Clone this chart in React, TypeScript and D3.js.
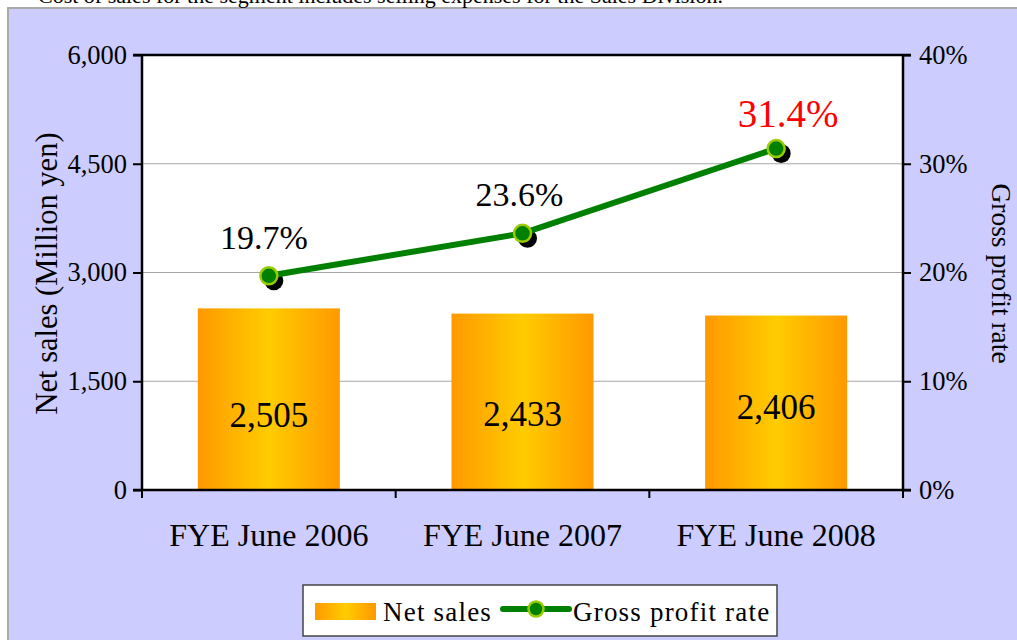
import React, { useEffect, useRef } from 'react';
import * as d3 from 'd3';

const categories = ['FYE June 2006', 'FYE June 2007', 'FYE June 2008'];
const netSales = [2505, 2433, 2406];
const grossProfitRate = [19.7, 23.6, 31.4];
const salesTicks = [0, 1500, 3000, 4500, 6000];
const rateTicks = [0, 10, 20, 30, 40];
const noteText = 'Cost of sales for the segment includes selling expenses for the Sales Division.';

const FONT = '"Liberation Serif", "Times New Roman", serif';

// label nudges (px) to sit like the original layout
const rateLabelDx = [-5, -3, 12];
const barLabelDy = [28, 24, 16];

const App = () => {
    const svgRef = useRef<SVGSVGElement>(null);

    useEffect(() => {
        const svg = d3.select(svgRef.current);
        svg.selectAll('*').remove();

        const margin = { top: 55, left: 142, right: 114, bottom: 150 };
        const W = 1017, H = 640;
        const width = W - margin.left - margin.right;
        const height = H - margin.top - margin.bottom;

        // Panel background
        svg.append('rect').attr('x', 8).attr('y', 8).attr('width', W).attr('height', H)
            .attr('fill', '#CCCCFF').attr('stroke', '#aaaaaa').attr('stroke-width', 2);

        svg.append('text').attr('x', 38).attr('y', 3)
            .attr('font-family', FONT).attr('font-size', 22).attr('fill', '#000')
            .text(noteText);

        const defs = svg.append('defs');
        const grad = defs.append('linearGradient').attr('id', 'barGrad')
            .attr('x1', '0%').attr('x2', '100%').attr('y1', '0%').attr('y2', '0%');
        grad.append('stop').attr('offset', '0%').attr('stop-color', '#FF9900');
        grad.append('stop').attr('offset', '50%').attr('stop-color', '#FFCC00');
        grad.append('stop').attr('offset', '100%').attr('stop-color', '#FF9900');

        const g = svg.append('g').attr('transform', `translate(${margin.left},${margin.top})`);

        const x = d3.scaleBand().domain(categories).range([0, width]).paddingInner(0.44).paddingOuter(0.22);
        const xBoundary = d3.scaleLinear().domain([0, categories.length]).range([0, width]);
        const y = d3.scaleLinear().domain([0, 6000]).range([height, 0]);
        const y2 = d3.scaleLinear().domain([0, 40]).range([height, 0]);

        g.append('rect').attr('width', width).attr('height', height).attr('fill', '#ffffff');

        // Grid lines
        g.selectAll('.grid').data(salesTicks.slice(1, -1)).enter().append('line')
            .attr('x1', 0).attr('x2', width)
            .attr('y1', d => y(d)).attr('y2', d => y(d))
            .attr('stroke', '#a6a6a6').attr('stroke-width', 1.2);

        // Bars
        g.selectAll('.bar').data(netSales).enter().append('rect')
            .attr('x', (d, i) => x(categories[i])!)
            .attr('y', d => y(d))
            .attr('width', x.bandwidth())
            .attr('height', d => height - y(d))
            .attr('fill', 'url(#barGrad)');

        g.selectAll('.barLabel').data(netSales).enter().append('text')
            .attr('x', (d, i) => x(categories[i])! + x.bandwidth() / 2)
            .attr('y', (d, i) => (y(d) + height) / 2 + barLabelDy[i])
            .attr('text-anchor', 'middle')
            .attr('font-family', FONT).attr('font-size', 35)
            .text(d => d3.format(',')(d));

        // Top / bottom frame lines
        g.append('line').attr('x1', -9).attr('x2', width + 8).attr('y1', 0).attr('y2', 0)
            .attr('stroke', '#000').attr('stroke-width', 2.5);
        g.append('line').attr('x1', -9).attr('x2', width + 8).attr('y1', height).attr('y2', height)
            .attr('stroke', '#000').attr('stroke-width', 2.5);

        // Left axis
        const leftAxis = g.append('g').call(d3.axisLeft(y).tickValues(salesTicks).tickSize(9).tickPadding(6)
            .tickFormat(d => d3.format(',')(d as number)));
        leftAxis.select('.domain').attr('stroke', '#000').attr('stroke-width', 2.5).attr('d', `M0,0V${height}`);
        leftAxis.selectAll('line').attr('stroke', '#000').attr('stroke-width', 2);
        leftAxis.selectAll('text').attr('font-family', FONT).attr('font-size', 26.5).attr('fill', '#000');

        // Right axis
        const rightAxis = g.append('g').attr('transform', `translate(${width},0)`)
            .call(d3.axisRight(y2).tickValues(rateTicks).tickSize(8).tickPadding(8).tickFormat(d => `${d}%`));
        rightAxis.select('.domain').attr('stroke', '#000').attr('stroke-width', 2.5).attr('d', `M0,0V${height}`);
        rightAxis.selectAll('line').attr('stroke', '#000').attr('stroke-width', 2);
        rightAxis.selectAll('text').attr('font-family', FONT).attr('font-size', 26.5).attr('fill', '#000');

        // X axis boundary ticks
        g.selectAll('.xtick').data(d3.range(categories.length + 1)).enter().append('line')
            .attr('x1', d => xBoundary(d)).attr('x2', d => xBoundary(d))
            .attr('y1', height).attr('y2', height + 8)
            .attr('stroke', '#000').attr('stroke-width', 2);

        g.selectAll('.xlabel').data(categories).enter().append('text')
            .attr('x', d => x(d)! + x.bandwidth() / 2)
            .attr('y', height + 56)
            .attr('text-anchor', 'middle')
            .attr('font-family', FONT).attr('font-size', 32)
            .text(d => d);

        // Axis titles
        svg.append('text')
            .attr('transform', `translate(57,${margin.top + height / 2 + 1}) rotate(-90)`)
            .attr('text-anchor', 'middle')
            .attr('font-family', FONT).attr('font-size', 30.5)
            .text('Net sales (Million yen)');
        svg.append('text')
            .attr('transform', `translate(992,${margin.top + height / 2 + 1}) rotate(90)`)
            .attr('text-anchor', 'middle')
            .attr('font-family', FONT).attr('font-size', 27.5)
            .text('Gross profit rate');

        // Line series
        const pts = grossProfitRate.map((v, i) => ({ x: x(categories[i])! + x.bandwidth() / 2, y: y2(v), v }));
        const line = d3.line<{ x: number; y: number }>().x(d => d.x).y(d => d.y);

        g.selectAll('.shadow').data(pts).enter().append('circle')
            .attr('cx', d => d.x + 5).attr('cy', d => d.y + 5).attr('r', 9.5).attr('fill', '#000');
        g.append('path').datum(pts).attr('d', line)
            .attr('fill', 'none').attr('stroke', '#008000').attr('stroke-width', 6);
        g.selectAll('.marker').data(pts).enter().append('circle')
            .attr('cx', d => d.x).attr('cy', d => d.y).attr('r', 8.5)
            .attr('fill', '#008000').attr('stroke', '#99CC00').attr('stroke-width', 2.5);

        g.selectAll('.rateLabel').data(pts).enter().append('text')
            .attr('x', (d, i) => d.x + rateLabelDx[i])
            .attr('y', (d, i) => d.y - (i === 2 ? 22 : 27))
            .attr('text-anchor', 'middle')
            .attr('font-family', FONT)
            .attr('font-size', (d, i) => (i === 2 ? 39 : 34))
            .attr('fill', (d, i) => (i === 2 ? '#FF0000' : '#000'))
            .text(d => `${d.v.toFixed(1)}%`);

        // Legend
        const lg = svg.append('g').attr('transform', 'translate(303,585)');
        lg.append('rect').attr('width', 474).attr('height', 51)
            .attr('fill', '#fff').attr('stroke', '#444').attr('stroke-width', 1.5);
        lg.append('rect').attr('x', 12).attr('y', 18).attr('width', 61).attr('height', 17).attr('fill', 'url(#barGrad)');
        lg.append('text').attr('x', 80).attr('y', 36).attr('font-family', FONT).attr('font-size', 27)
            .attr('letter-spacing', 1.2).text('Net sales');
        lg.append('line').attr('x1', 200).attr('x2', 266).attr('y1', 24).attr('y2', 24)
            .attr('stroke', '#008000').attr('stroke-width', 6).attr('stroke-linecap', 'round');
        lg.append('circle').attr('cx', 233).attr('cy', 24).attr('r', 7.5)
            .attr('fill', '#008000').attr('stroke', '#99CC00').attr('stroke-width', 2.5);
        lg.append('text').attr('x', 270).attr('y', 36).attr('font-family', FONT).attr('font-size', 27)
            .attr('letter-spacing', 1.2).text('Gross profit rate');
    }, []);

    return (
        <svg ref={svgRef} width={1017} height={640}
            style={{ position: 'absolute', left: 0, top: 0, display: 'block' }} />
    );
};

export default App;
